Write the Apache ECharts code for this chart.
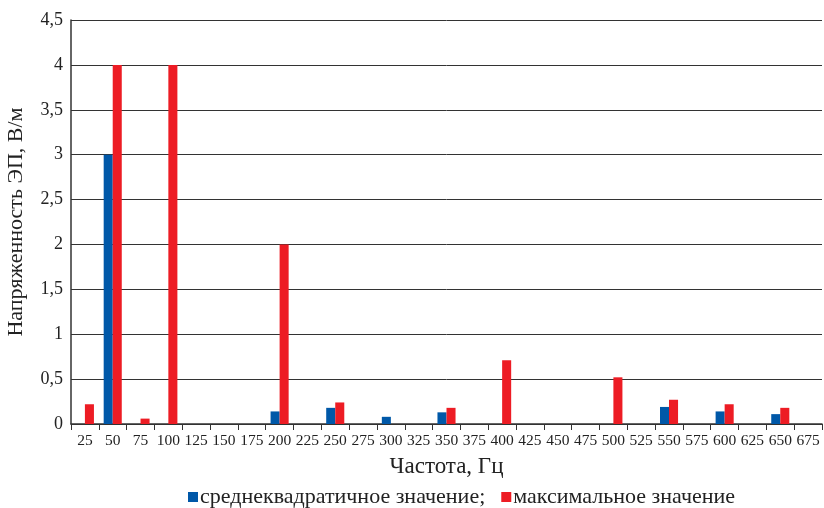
<!DOCTYPE html>
<html><head><meta charset="utf-8">
<script src="https://cdn.jsdelivr.net/npm/echarts@6/dist/echarts.min.js"></script>
<style>html,body{margin:0;padding:0;background:#fff}#c{width:824px;height:508px}</style>
</head><body><div id="c"></div>
<script>
const categories = ['25','50','75','100','125','150','175','200','225','250','275','300','325','350','375','400','425','450','475','500','525','550','575','600','625','650','675'];
const rmsValues = [null,3.0,null,null,null,null,null,0.14,null,0.18,null,0.08,null,0.13,null,null,null,null,null,null,null,0.19,null,0.14,null,0.11,null];
const maxValues = [0.22,4.0,0.06,4.0,null,null,null,2.0,null,0.24,null,null,null,0.18,null,0.71,null,null,null,0.52,null,0.27,null,0.22,null,0.18,null];
const seriesNames = ['среднеквадратичное значение;', 'максимальное значение'];
const fontFam = '"Liberation Serif","DejaVu Serif",serif';
const chart = echarts.init(document.getElementById('c'));
chart.setOption({
  animation: false,
  textStyle: {fontFamily: fontFam},
  grid: {left: 71, right: 2, top: 20, bottom: 84, containLabel: false, outerBoundsMode: 'none'},
  legend: {
    top: 481, left: 183, itemWidth: 10, itemHeight: 10, itemGap: 16,
    icon: 'rect',
    textStyle: {fontFamily: fontFam, fontSize: 22, color: '#222', padding: [0,0,0,-3]},
    data: seriesNames
  },
  xAxis: {
    type: 'category', data: categories,
    name: 'Частота, Гц', nameLocation: 'middle', nameGap: 31,
    nameTextStyle: {fontFamily: fontFam, fontSize: 23, color: '#222'},
    axisLine: {lineStyle: {color: '#333', width: 1.5}},
    axisTick: {show: true, length: 6, lineStyle: {color: '#333'}},
    axisLabel: {fontFamily: fontFam, fontSize: 15.5, color: '#222', interval: 0, margin: 9}
  },
  yAxis: {
    type: 'value', min: 0, max: 4.5, interval: 0.5,
    name: 'Напряженность ЭП, В/м', nameLocation: 'middle', nameGap: 44, nameRotate: 90,
    nameTextStyle: {fontFamily: fontFam, fontSize: 22, color: '#222'},
    axisLine: {show: true, lineStyle: {color: '#333', width: 1.5}},
    axisTick: {show: false},
    axisLabel: {fontFamily: fontFam, fontSize: 18, color: '#222', margin: 8,
      formatter: v => String(v).replace('.', ',')},
    splitLine: {lineStyle: {color: '#333', width: 1}}
  },
  series: [
    {name: seriesNames[0], type: 'bar', data: rmsValues, itemStyle: {color: '#0058a8'}, barGap: '0%', barCategoryGap: '35%'},
    {name: seriesNames[1], type: 'bar', data: maxValues, itemStyle: {color: '#ed1c24'}, barGap: '0%', barCategoryGap: '35%'}
  ]
});
</script></body></html>
